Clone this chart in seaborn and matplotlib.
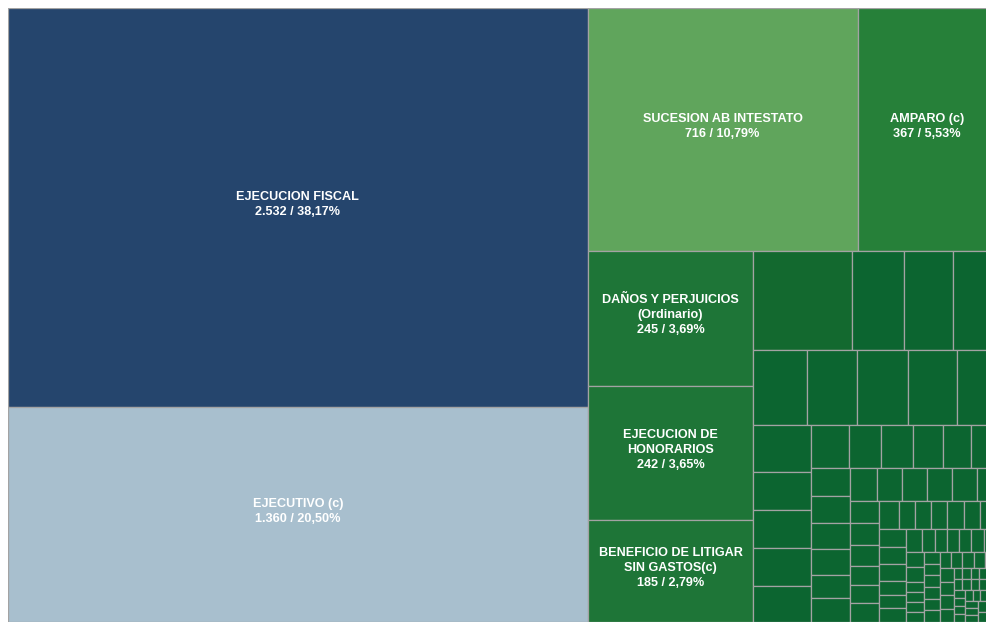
import matplotlib
matplotlib.use("Agg")
import matplotlib.pyplot as plt
import seaborn as sns

# ---- data -------------------------------------------------------------
main_labels = [
    "EJECUCION FISCAL",
    "EJECUTIVO (c)",
    "SUCESION AB INTESTATO",
    "AMPARO (c)",
    "DAÑOS Y PERJUICIOS\n(Ordinario)",
    "EJECUCION DE\nHONORARIOS",
    "BENEFICIO DE LITIGAR\nSIN GASTOS(c)",
]
main_values = [2532, 1360, 716, 367, 245, 242, 185]
main_colors = ["#25456d", "#a8bfce", "#60a55c", "#268039",
               "#1e7537", "#1e7537", "#1e7537"]

# remaining (unlabelled) categories
other_values = [108, 57, 53, 47, 44, 41, 41, 40, 32, 30, 24, 24, 24, 23,
                18, 15, 15, 14, 13, 12, 12, 11, 11, 11, 10, 10, 10,
                9, 9, 9, 9, 7, 7, 7, 7, 6, 6, 6, 6,
                5, 5, 5, 5, 5, 5, 5, 5, 5, 4, 4, 4, 4,
                3, 3, 3, 3, 3, 3, 3, 3] + [2] * 19 + [1] * 25
other_color_big = "#13692f"
other_color = "#0c6530"

values = main_values + other_values
total = sum(values)

# ---- squarified treemap (d3 algorithm, target aspect ratio 1.5) -------
RATIO = 1.5


def squarify(vals, x0, y0, x1, y1, ratio=RATIO):
    rects = [None] * len(vals)
    n = len(vals)
    i0 = i1 = 0
    value = float(sum(vals))
    while i0 < n:
        dx, dy = x1 - x0, y1 - y0
        sumv = vals[i1]
        i1 += 1
        minv = maxv = sumv
        alpha = max(dy / dx, dx / dy) / (value * ratio)
        beta = sumv * sumv * alpha
        minr = max(maxv / beta, beta / minv)
        while i1 < n:
            nv = vals[i1]
            s = sumv + nv
            mn, mx = min(minv, nv), max(maxv, nv)
            beta = s * s * alpha
            nr = max(mx / beta, beta / mn)
            if nr > minr:
                break
            sumv, minv, maxv, minr = s, mn, mx, nr
            i1 += 1
        row = range(i0, i1)
        if dx < dy:
            yb = y0 + dy * sumv / value
            x = x0
            for i in row:
                w = dx * vals[i] / sumv
                rects[i] = (x, y0, w, yb - y0)
                x += w
            y0 = yb
        else:
            xb = x0 + dx * sumv / value
            y = y0
            for i in row:
                h = dy * vals[i] / sumv
                rects[i] = (x0, y, xb - x0, h)
                y += h
            x0 = xb
        value -= sumv
        i0 = i1
    return rects


W, H = 988.0, 614.0
rects = squarify(values, 0.0, 0.0, W, H)

# ---- drawing ----------------------------------------------------------
sns.set_theme(style="white")
plt.rcParams["font.family"] = ["Liberation Sans", "DejaVu Sans"]

fig = plt.figure(figsize=(9.86, 6.22), dpi=100)
ax = fig.add_axes([8 / 986, 0.0, W / 986, H / 622])

colors = main_colors + [other_color_big if v >= 100 else other_color
                        for v in other_values]

xs = [r[0] for r in rects]
ys = [r[1] for r in rects]
ws = [r[2] for r in rects]
hs = [r[3] for r in rects]
ax.bar(xs, hs, width=ws, bottom=ys, align="edge", color=colors,
       edgecolor="#a3a3a3", linewidth=0.9)

ax.set_xlim(0, W)
ax.set_ylim(H, 0)
ax.axis("off")


def fmt_int(v):
    return f"{v:,}".replace(",", ".")


for i, lab in enumerate(main_labels):
    x, y, w, h = rects[i]
    pct = f"{100 * main_values[i] / total:.2f}".replace(".", ",")
    txt = f"{lab}\n{fmt_int(main_values[i])} / {pct}%"
    ax.text(x + w / 2, y + h / 2 - 3, txt, ha="center", va="center",
            color="white", fontsize=9.1, fontweight="bold",
            linespacing=1.35)

fig.savefig("out.png", dpi=100, facecolor="white")
